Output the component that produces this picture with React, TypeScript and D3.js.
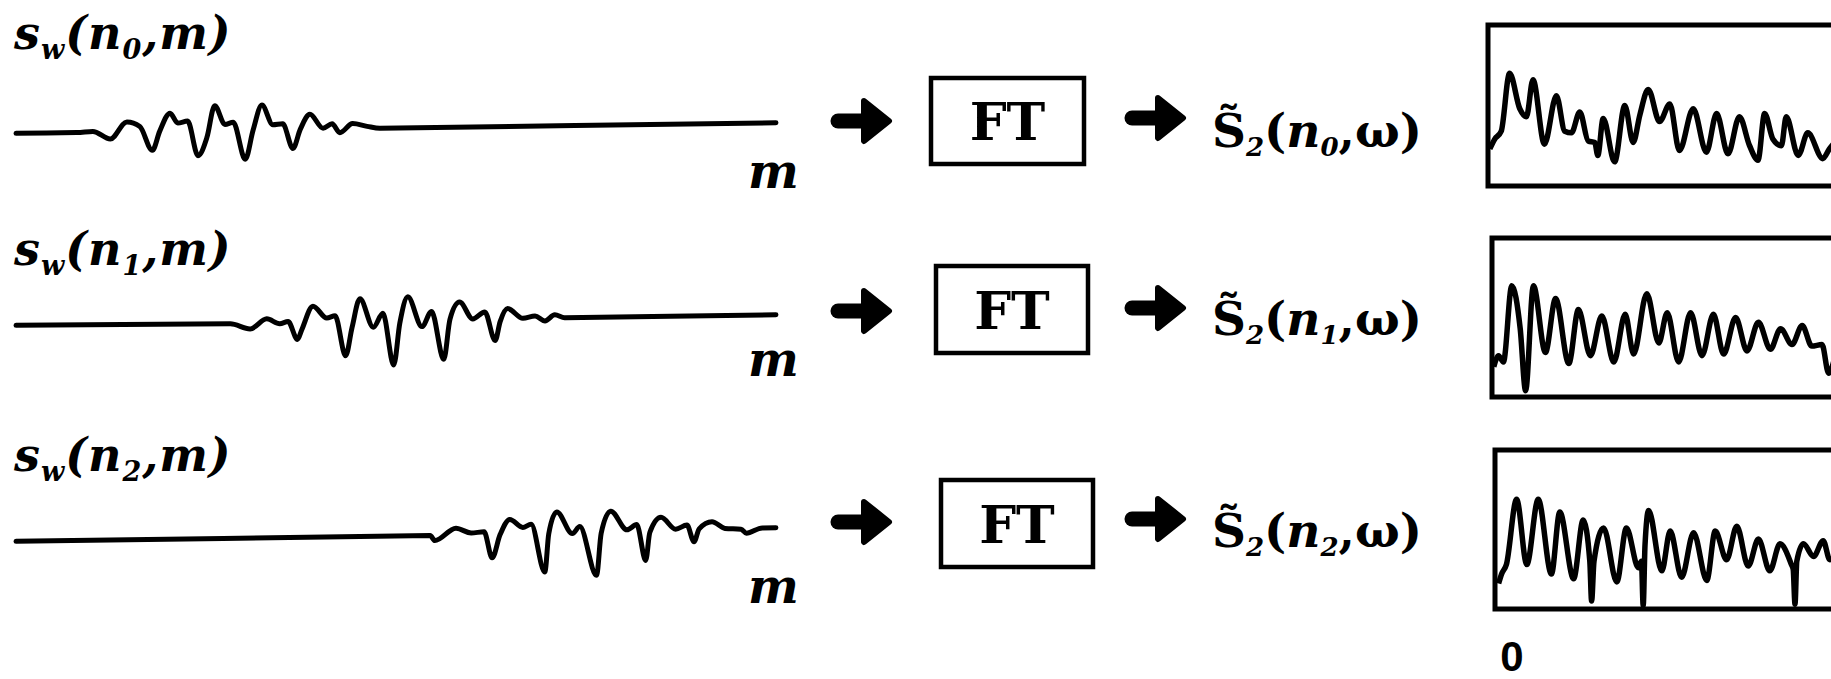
import { useRef, useEffect } from 'react'
import * as d3 from 'd3'

// windowed signal segments s_w(n, m): [m, amplitude]
const SIG_N0: [number, number][] = [
  [0, 0], [8, 0], [10.1, 0.03], [12.4, -0.23], [14.6, 0.33], [16.3, 0.17], [17.9, -0.63], [18.9, 0],
  [20.3, 0.6], [21.3, 0.27], [22.6, 0.33], [23.9, -0.83], [25.1, -0.23], [26.2, 0.83], [27.5, 0.2],
  [28.6, 0.27], [30.1, -0.97], [31.2, 0], [32.4, 0.83], [33.8, 0.17], [35.1, 0.2], [36.4, -0.63],
  [37.4, 0], [38.7, 0.5], [40.4, 0.03], [41.6, 0.17], [42.6, -0.13], [44.3, 0.17], [46.2, 0.07],
  [47.9, 0], [100, 0],
]
const SIG_N1: [number, number][] = [
  [0, 0], [28.2, -0.05], [30.8, -0.23], [33.0, 0.1], [34.7, -0.07], [35.8, 0], [37.0, -0.6],
  [37.6, -0.27], [39.1, 0.5], [40.9, 0.1], [42.0, 0.17], [43.3, -1.17], [44.2, -0.23], [45.3, 0.73],
  [47.0, -0.23], [48.3, 0.23], [49.6, -1.5], [50.5, -0.1], [51.6, 0.77], [53.4, -0.23], [54.7, 0.27],
  [56.2, -1.33], [57.1, 0], [58.4, 0.57], [60.1, 0], [61.7, 0.23], [63.0, -0.73], [63.7, -0.1],
  [64.7, 0.33], [66.7, 0], [68.3, 0.07], [69.6, -0.1], [70.9, 0.1], [72.2, 0], [100, 0],
]
const SIG_N2: [number, number][] = [
  [0, 0], [54.5, 0], [55.1, -0.17], [57.9, 0.23], [59.9, 0.07], [61.6, 0.1], [62.6, -0.77], [63.7, 0],
  [65.0, 0.5], [66.7, 0.23], [67.8, 0.33], [69.5, -1.27], [70.1, 0], [71.2, 0.73], [73.2, 0],
  [74.2, 0.23], [76.3, -1.4], [77.0, 0], [78.3, 0.73], [80.4, 0.1], [81.7, 0.27], [82.8, -0.93],
  [83.4, 0], [84.9, 0.5], [86.8, 0.1], [88.3, 0.23], [89.2, -0.33], [89.9, 0.1], [91.6, 0.33],
  [93.3, 0.1], [95.4, 0.07], [96.1, -0.07], [98.2, 0.1], [100, 0.1],
]

// short-time spectra |S2(n, w)|: [w, level 0..1]
const SPEC_N0: [number, number][] = [
  [0.3, 0.23], [1.1, 0.29], [2.2, 0.34], [3.6, 0.7], [5.3, 0.48], [6.4, 0.43], [7.5, 0.66], [9.4, 0.26],
  [11.4, 0.56], [12.8, 0.34], [13.9, 0.33], [15.3, 0.46], [16.7, 0.28], [17.8, 0.27], [18.3, 0.19],
  [19.2, 0.42], [21.1, 0.15], [22.8, 0.5], [24.2, 0.27], [25.3, 0.44], [26.7, 0.6], [28.6, 0.4],
  [30.3, 0.51], [31.9, 0.22], [34.2, 0.48], [36.4, 0.21], [38.1, 0.45], [40.0, 0.2], [41.9, 0.43],
  [43.6, 0.25], [45.0, 0.16], [46.1, 0.45], [47.5, 0.29], [48.9, 0.25], [49.7, 0.43], [51.7, 0.19],
  [53.3, 0.33], [55.8, 0.17], [56.9, 0.23], [58.5, 0.3],
]
const SPEC_N1: [number, number][] = [
  [0.3, 0.19], [1.1, 0.26], [1.9, 0.22], [3.3, 0.7], [4.7, 0.43], [5.6, 0.04], [6.9, 0.7], [8.9, 0.28],
  [10.6, 0.62], [12.8, 0.21], [14.4, 0.55], [16.4, 0.26], [18.3, 0.51], [20.3, 0.22], [22.2, 0.52],
  [23.6, 0.27], [25.8, 0.65], [27.8, 0.34], [29.2, 0.53], [31.1, 0.22], [33.1, 0.53], [35.0, 0.26],
  [36.9, 0.52], [38.6, 0.27], [40.6, 0.5], [42.5, 0.29], [44.4, 0.47], [46.4, 0.3], [48.1, 0.43],
  [50.0, 0.33], [51.7, 0.45], [53.3, 0.32], [55.0, 0.33], [56.1, 0.15], [57.2, 0.26],
]
const SPEC_N2: [number, number][] = [
  [0.6, 0.16], [1.1, 0.22], [1.9, 0.28], [3.6, 0.69], [5.3, 0.28], [7.2, 0.69], [9.4, 0.22],
  [10.8, 0.61], [13.1, 0.19], [14.7, 0.56], [15.8, 0.3], [16.1, 0.05], [16.5, 0.3], [18.1, 0.51],
  [20.3, 0.17], [21.9, 0.51], [23.9, 0.26], [24.4, 0.3], [24.7, 0.02], [25.0, 0.4], [25.6, 0.62],
  [27.8, 0.24], [29.2, 0.49], [31.1, 0.2], [33.1, 0.48], [35.3, 0.18], [36.7, 0.49], [38.6, 0.31],
  [40.3, 0.52], [42.2, 0.27], [43.9, 0.44], [45.8, 0.24], [47.5, 0.41], [49.4, 0.28], [49.7, 0.25],
  [50.0, 0.03], [50.3, 0.3], [51.4, 0.41], [53.1, 0.33], [54.7, 0.43], [55.8, 0.31], [57.5, 0.35],
]

const ROW_SUBS = ['0', '1', '2']
const SIGNALS = [SIG_N0, SIG_N1, SIG_N2]
const SPECTRA = [SPEC_N0, SPEC_N1, SPEC_N2]

// per-row layout in page pixels
const ROWS = [
  { labelY: 49, sigY: 128, mY: 188, arrowY: 121, ft: { x: 931, y: 78, w: 153, h: 86 }, sY: 147, box: { x: 1488, y: 25, h: 161 } },
  { labelY: 265, sigY: 320, mY: 376, arrowY: 311, ft: { x: 936, y: 266, w: 152, h: 87 }, sY: 335, box: { x: 1492, y: 238, h: 159 } },
  { labelY: 471, sigY: 536, mY: 603, arrowY: 522, ft: { x: 941, y: 480, w: 152, h: 87 }, sY: 547, box: { x: 1495, y: 450, h: 159 } },
]

const W = 1831
const H = 679
const SERIF = '"DejaVu Serif", serif'

export default function App() {
  const svgRef = useRef<SVGSVGElement>(null)

  useEffect(() => {
    if (!svgRef.current) return
    const svg = d3.select(svgRef.current)
    svg.selectAll('*').remove()

    svg.append('rect').attr('width', W).attr('height', H).attr('fill', '#ffffff')

    const sigX = d3.scaleLinear().domain([0, 100]).range([16, 776])
    const specX = d3.scaleLinear().domain([0, 100])

    const arrow = (g: d3.Selection<SVGGElement, unknown, null, undefined>, x0: number, x1: number, y: number) => {
      const head = 25
      g.append('line')
        .attr('x1', x0 + 7).attr('x2', x1 - head + 2)
        .attr('y1', y).attr('y2', y)
        .attr('stroke', '#000').attr('stroke-width', 15).attr('stroke-linecap', 'round')
      g.append('path')
        .attr('d', `M${x1 - head},${y - 20} L${x1},${y} L${x1 - head},${y + 20} Z`)
        .attr('fill', '#000').attr('stroke', '#000').attr('stroke-width', 6).attr('stroke-linejoin', 'round')
    }

    ROWS.forEach((row, i) => {
      const g = svg.append('g')

      // label s_w(n_i, m)
      const lab = g.append('text')
        .attr('x', 14).attr('y', row.labelY)
        .attr('font-family', SERIF).attr('font-weight', 'bold').attr('font-style', 'italic')
        .attr('font-size', 46).attr('letter-spacing', 1).attr('fill', '#000')
      lab.append('tspan').text('s')
      lab.append('tspan').attr('font-size', 27).attr('dy', 10).text('w')
      lab.append('tspan').attr('dy', -10).text('(n')
      lab.append('tspan').attr('font-size', 27).attr('dy', 10).text(ROW_SUBS[i])
      lab.append('tspan').attr('dy', -10).text(',m)')

      // time signal
      const sigY = d3.scaleLinear().domain([-1, 1]).range([row.sigY + 30, row.sigY - 30])
      const sigLine = d3.line<[number, number]>()
        .x((d) => sigX(d[0]))
        .y((d) => sigY(d[1]))
        .curve(d3.curveMonotoneX)
      g.append('path')
        .attr('d', sigLine(SIGNALS[i]))
        .attr('transform', `rotate(-0.8, 400, ${row.sigY})`)
        .attr('fill', 'none').attr('stroke', '#000').attr('stroke-width', 5)
        .attr('stroke-linejoin', 'round').attr('stroke-linecap', 'round')

      g.append('text')
        .attr('x', 748).attr('y', row.mY)
        .attr('font-family', SERIF).attr('font-weight', 'bold').attr('font-style', 'italic')
        .attr('font-size', 48).attr('fill', '#000')
        .text('m')

      arrow(g, 831, 889, row.arrowY)

      g.append('rect')
        .attr('x', row.ft.x).attr('y', row.ft.y).attr('width', row.ft.w).attr('height', row.ft.h)
        .attr('fill', 'none').attr('stroke', '#000').attr('stroke-width', 4.5)
      g.append('text')
        .attr('x', row.ft.x + row.ft.w / 2).attr('y', row.ft.y + row.ft.h / 2 + 19)
        .attr('text-anchor', 'middle')
        .attr('font-family', SERIF).attr('font-weight', 'bold')
        .attr('font-size', 52).attr('fill', '#000')
        .text('FT')

      arrow(g, 1125, 1183, row.arrowY - 3)

      // S~_2(n_i, w)
      const st = g.append('text')
        .attr('x', 1212).attr('y', row.sY)
        .attr('font-family', SERIF).attr('font-weight', 'bold')
        .attr('font-size', 47).attr('fill', '#000')
      st.append('tspan').text('S\u0303')
      st.append('tspan').attr('font-size', 26).attr('font-style', 'italic').attr('dy', 9).text('2')
      st.append('tspan').attr('dy', -9).text('(')
      st.append('tspan').attr('font-style', 'italic').text('n')
      st.append('tspan').attr('font-size', 26).attr('font-style', 'italic').attr('dy', 9).text(ROW_SUBS[i])
      st.append('tspan').attr('dy', -9).text(',\u03c9)')

      // spectrum box
      g.append('rect')
        .attr('x', row.box.x).attr('y', row.box.y).attr('width', 600).attr('height', row.box.h)
        .attr('fill', 'none').attr('stroke', '#000').attr('stroke-width', 5)
      specX.range([row.box.x, row.box.x + 600])
      const specY = d3.scaleLinear().domain([0, 1]).range([row.box.y + row.box.h, row.box.y])
      const specLine = d3.line<[number, number]>()
        .x((d) => specX(d[0]))
        .y((d) => specY(d[1]))
        .curve(d3.curveMonotoneX)
      g.append('path')
        .attr('d', specLine(SPECTRA[i]))
        .attr('fill', 'none').attr('stroke', '#000').attr('stroke-width', 5.5)
        .attr('stroke-linejoin', 'round')
    })

    svg.append('text')
      .attr('x', 1512).attr('y', 671)
      .attr('text-anchor', 'middle')
      .attr('font-family', '"Liberation Sans", Arial, sans-serif').attr('font-weight', 'bold')
      .attr('font-size', 42).attr('fill', '#000')
      .text('0')
  }, [])

  return (
    <svg
      ref={svgRef}
      width={W}
      height={H}
      style={{ position: 'absolute', left: 0, top: 0, display: 'block' }}
    />
  )
}
